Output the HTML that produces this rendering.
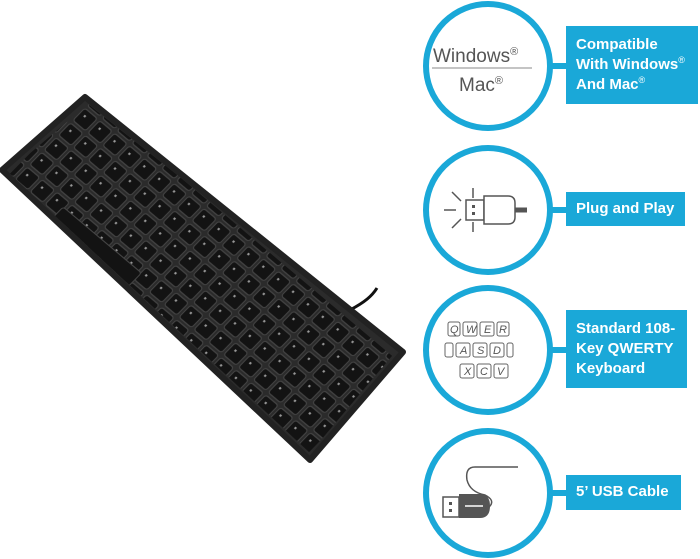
<!DOCTYPE html>
<html><head><meta charset="utf-8"><style>
html,body{margin:0;padding:0;background:#fff;}
body{width:700px;height:559px;position:relative;overflow:hidden;font-family:"Liberation Sans",sans-serif;}
.box{position:absolute;left:566px;background:#1aa8d8;color:#fff;font-weight:bold;font-size:15px;line-height:20px;padding-left:10px;box-sizing:border-box;white-space:nowrap;}
sup{font-size:9px;font-weight:normal;vertical-align:6px;line-height:0}
</style></head><body>
<svg width="700" height="559" style="position:absolute;left:0;top:0">
<defs>
<pattern id="keys" width="19" height="18" patternUnits="userSpaceOnUse" x="6" y="6">
<rect x="1.5" y="1.5" width="16" height="15" rx="2.5" fill="#131313" stroke="#444" stroke-width="1"/>
<rect x="6" y="6" width="2" height="2" fill="#999"/>
</pattern>
<clipPath id="kb"><polygon points="88,104 397,350 310,453 8,172"/></clipPath>
</defs>
<path d="M350 310 C365 302,372 296,377 288" stroke="#111" stroke-width="3" fill="none"/>
<polygon points="85,97 403,352 310,460 2,170" fill="#2b2b2b" stroke="#222" stroke-width="6" stroke-linejoin="round"/>
<g clip-path="url(#kb)">
<g transform="matrix(0.783,0.66,-0.8,0.818,85,97)">
<rect x="0" y="0" width="400" height="115" fill="url(#keys)"/>
<rect x="60" y="86" width="100" height="17" rx="2.5" fill="#131313" stroke="#444" stroke-width="1"/>
</g>
</g>
<g fill="#fff" stroke="#1aa8d8" stroke-width="6">
<line x1="545" y1="66" x2="570" y2="66"/>
<line x1="545" y1="210" x2="570" y2="210"/>
<line x1="545" y1="350" x2="570" y2="350"/>
<line x1="545" y1="493" x2="570" y2="493"/>
<circle cx="488" cy="66" r="62"/>
<circle cx="488" cy="210" r="62"/>
<circle cx="488" cy="350" r="62"/>
<circle cx="488" cy="493" r="62"/>
</g>
<text x="433" y="62" font-size="19" fill="#555" font-family="Liberation Sans">Windows<tspan font-size="11" dy="-7">®</tspan></text>
<line x1="432" y1="68" x2="532" y2="68" stroke="#888" stroke-width="1"/>
<text x="459" y="91" font-size="19" fill="#555" font-family="Liberation Sans">Mac<tspan font-size="11" dy="-7">®</tspan></text>
<g stroke="#555" stroke-width="1.5" fill="none">
<line x1="444" y1="210" x2="456" y2="210"/><line x1="452" y1="192" x2="461" y2="201"/><line x1="452" y1="228" x2="461" y2="219"/>
<line x1="473" y1="188" x2="473" y2="198"/><line x1="473" y1="222" x2="473" y2="232"/>
<rect x="466" y="200" width="18" height="20" fill="#fff"/>
<path d="M484 196 H508 Q515 196 515 203 V217 Q515 224 508 224 H484 Z" fill="#fff"/>
<line x1="515" y1="210" x2="527" y2="210" stroke-width="5"/>
</g>
<g fill="#555"><rect x="472" y="205" width="3" height="3"/><rect x="472" y="212" width="3" height="3"/></g>
<g stroke="#666" stroke-width="1" fill="none">
<rect x="448" y="322" width="12" height="14" rx="2"/><rect x="463" y="322" width="14" height="14" rx="2"/><rect x="480" y="322" width="14" height="14" rx="2"/><rect x="497" y="322" width="12" height="14" rx="2"/>
<rect x="445" y="343" width="8" height="14" rx="2"/><rect x="456" y="343" width="14" height="14" rx="2"/><rect x="473" y="343" width="14" height="14" rx="2"/><rect x="490" y="343" width="14" height="14" rx="2"/><rect x="507" y="343" width="6" height="14" rx="2"/>
<rect x="460" y="364" width="14" height="14" rx="2"/><rect x="477" y="364" width="14" height="14" rx="2"/><rect x="494" y="364" width="14" height="14" rx="2"/>
</g>
<g font-size="11" font-style="italic" fill="#555" font-family="Liberation Sans">
<text x="450" y="333">Q</text><text x="466" y="333">W</text><text x="484" y="333">E</text><text x="499" y="333">R</text>
<text x="460" y="354">A</text><text x="477" y="354">S</text><text x="493" y="354">D</text>
<text x="464" y="375">X</text><text x="480" y="375">C</text><text x="497" y="375">V</text>
</g>
<path d="M518 467 H475 Q465 467 467 480 Q470 492 485 495 Q495 500 490 506 L482 510" stroke="#555" stroke-width="1.5" fill="none"/>
<rect x="443" y="497" width="16" height="20" fill="#fff" stroke="#555" stroke-width="1.5"/>
<path d="M459 494 H480 Q490 494 490 506 Q490 518 480 518 H459 Z" fill="#555"/>
<g fill="#555"><rect x="449" y="502" width="3" height="3"/><rect x="449" y="509" width="3" height="3"/></g>
<line x1="465" y1="506" x2="483" y2="506" stroke="#fff" stroke-width="1.5"/>
</svg>
<div class="box" style="top:26px;height:78px;width:132px;padding-top:9px;">Compatible<br>With Windows<sup>®</sup><br>And Mac<sup>®</sup></div>
<div class="box" style="top:192px;height:34px;width:119px;padding-top:7px;">Plug and Play</div>
<div class="box" style="top:310px;height:78px;width:121px;padding-top:9px;">Standard 108-<br>Key QWERTY<br>Keyboard</div>
<div class="box" style="top:475px;height:35px;width:115px;padding-top:7px;">5’ USB Cable</div>
</body></html>
